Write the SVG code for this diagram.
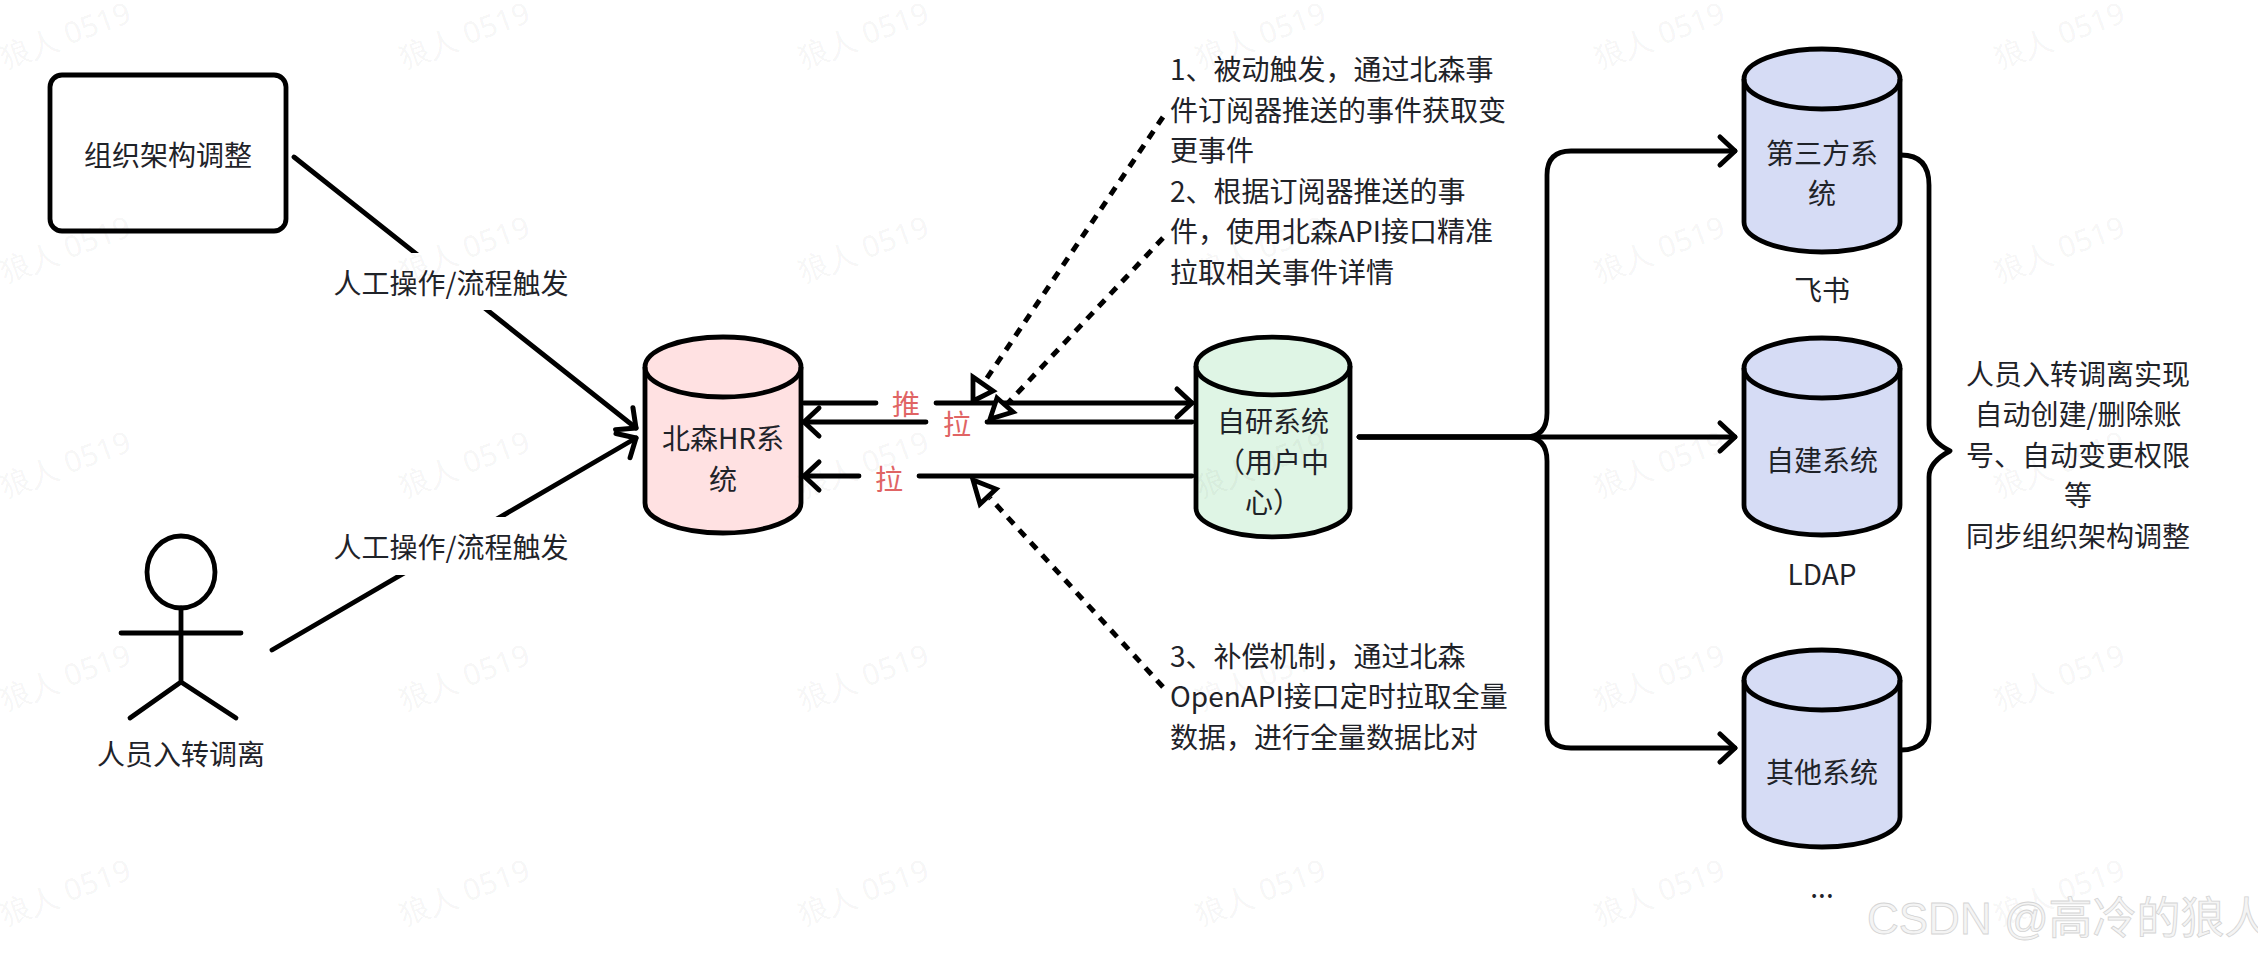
<svg xmlns="http://www.w3.org/2000/svg" width="2258" height="954" viewBox="0 0 2258 954">
<style>
text{font-family:"Noto Sans CJK SC","Noto Sans",sans-serif;font-size:28px;fill:#1f2329}
.c{text-anchor:middle;dominant-baseline:central}
.s{text-anchor:start;dominant-baseline:central}
.red{fill:#e06464}
.ln{fill:none;stroke:#000;stroke-width:4.8;stroke-linecap:round;stroke-linejoin:round}
.dash{fill:none;stroke:#000;stroke-width:5;stroke-dasharray:9 8}
.tri{fill:#fff;stroke:#000;stroke-width:4.8;stroke-linejoin:miter}
.cyl{stroke:#000;stroke-width:4.8;stroke-linejoin:round}
.top{fill:none;stroke:#000;stroke-width:4.8}
.wm text{font-family:"Noto Sans",sans-serif;font-size:30px;fill:#000;fill-opacity:.055;text-anchor:middle;dominant-baseline:central}
</style>
<defs>
<marker id="open" markerUnits="userSpaceOnUse" markerWidth="24" markerHeight="36" refX="20" refY="18" orient="auto" viewBox="0 0 24 36"><path d="M5 4L20 18L5 32" fill="none" stroke="#000" stroke-width="5" stroke-linecap="round" stroke-linejoin="round"/></marker>
</defs>
<rect width="2258" height="954" fill="#fff"/>
<g id="connectors">
<path class="ln" d="M294 157L636 428" marker-end="url(#open)"/>
<path class="ln" d="M272 650L636 438" marker-end="url(#open)"/>
<path class="ln" d="M804 403H876M936 403H1192" marker-end="url(#open)"/>
<path class="ln" d="M1192 422H987M926 422H804" marker-end="url(#open)"/>
<path class="ln" d="M1192 476H919M859 476H804" marker-end="url(#open)"/>
<path class="ln" d="M1359 437H1735" marker-end="url(#open)"/>
<path class="ln" d="M1359 437H1525Q1547 437 1547 413V175Q1547 151 1571 151H1735" marker-end="url(#open)"/>
<path class="ln" d="M1359 437H1525Q1547 437 1547 461V724Q1547 748 1571 748H1735" marker-end="url(#open)"/>
<path class="ln" d="M1901 155Q1929 155 1929 185V425Q1929 440 1950 451Q1929 462 1929 477V722Q1929 750 1901 750"/>
<path class="dash" d="M1163 117L985 381"/>
<polygon class="tri" points="973,377 993,391 973,401"/>
<path class="dash" d="M1163 238L1008 403"/>
<polygon class="tri" points="997,398 1013,412 990,419"/>
<path class="dash" d="M1163 687L990 498"/>
<polygon class="tri" points="973,480 996,489 980,504"/>
</g>
<g id="label-org"><rect x="335" y="253" width="232" height="57" fill="#fff"/><text class="c" x="451" y="282">人工操作/流程触发</text></g>
<g id="label-person"><rect x="335" y="517" width="232" height="58" fill="#fff"/><text class="c" x="451" y="546">人工操作/流程触发</text></g>
<g id="label-push"><text class="c red" x="906" y="403">推</text></g>
<g id="label-pull-1"><text class="c red" x="957" y="423">拉</text></g>
<g id="label-pull-2"><text class="c red" x="889" y="478">拉</text></g>
<g id="node-org"><rect x="50" y="75" width="236" height="156" rx="12" fill="#fff" stroke="#000" stroke-width="4.8"/><text class="c" x="168" y="154">组织架构调整</text></g>
<g id="node-person" class="ln">
<ellipse cx="181" cy="572" rx="34" ry="36" fill="#fff"/>
<path d="M181 608V682M121 633H241M130 718L181 682L236 718"/>
<text class="c" x="181" y="753" style="stroke:none">人员入转调离</text>
</g>
<g id="node-hr">
<path class="cyl" fill="#ffe1e2" d="M645 367A78 30 0 0 1 801 367V503A78 30 0 0 1 645 503Z"/>
<path class="top" d="M645 367A78 30 0 0 0 801 367"/>
<text class="c" x="723" y="437">北森HR系</text><text class="c" x="723" y="478">统</text>
</g>
<g id="node-self">
<path class="cyl" fill="#dff5e5" d="M1196 366A77 29 0 0 1 1350 366V508A77 29 0 0 1 1196 508Z"/>
<path class="top" d="M1196 366A77 29 0 0 0 1350 366"/>
<text class="c" x="1273" y="420">自研系统</text><text class="c" x="1273" y="461">（用户中</text><text class="c" x="1273" y="501">心）</text>
</g>
<g id="node-third">
<path class="cyl" fill="#d6dcf5" d="M1744 79A78 30 0 0 1 1900 79V222A78 30 0 0 1 1744 222Z"/>
<path class="top" d="M1744 79A78 30 0 0 0 1900 79"/>
<text class="c" x="1822" y="152">第三方系</text><text class="c" x="1822" y="192">统</text>
</g>
<text class="c" id="label-feishu" x="1822" y="289">飞书</text>
<g id="node-ldap">
<path class="cyl" fill="#d6dcf5" d="M1744 368A78 30 0 0 1 1900 368V505A78 30 0 0 1 1744 505Z"/>
<path class="top" d="M1744 368A78 30 0 0 0 1900 368"/>
<text class="c" x="1822" y="459">自建系统</text>
</g>
<text class="c" id="label-ldap" x="1822" y="573">LDAP</text>
<g id="node-other">
<path class="cyl" fill="#d6dcf5" d="M1744 680A78 30 0 0 1 1900 680V817A78 30 0 0 1 1744 817Z"/>
<path class="top" d="M1744 680A78 30 0 0 0 1900 680"/>
<text class="c" x="1822" y="771">其他系统</text>
</g>
<text class="c" id="label-more" x="1822" y="886">...</text>
<g id="note-events">
<text class="s" x="1170" y="68">1、被动触发，通过北森事</text>
<text class="s" x="1170" y="108.5">件订阅器推送的事件获取变</text>
<text class="s" x="1170" y="149">更事件</text>
<text class="s" x="1170" y="189.5">2、根据订阅器推送的事</text>
<text class="s" x="1170" y="230">件，使用北森API接口精准</text>
<text class="s" x="1170" y="270.5">拉取相关事件详情</text>
</g>
<g id="note-compensate">
<text class="s" x="1170" y="654.5">3、补偿机制，通过北森</text>
<text class="s" x="1170" y="695">OpenAPI接口定时拉取全量</text>
<text class="s" x="1170" y="735.5">数据，进行全量数据比对</text>
</g>
<g id="note-sync">
<text class="c" x="2078" y="372.5">人员入转调离实现</text>
<text class="c" x="2078" y="413">自动创建/删除账</text>
<text class="c" x="2078" y="453.5">号、自动变更权限</text>
<text class="c" x="2078" y="494">等</text>
<text class="c" x="2078" y="534.5">同步组织架构调整</text>
</g>
<g id="watermarks" class="wm">
<text x="65" y="34" transform="rotate(-20 65 34)">狼人 0519</text><text x="464" y="34" transform="rotate(-20 464 34)">狼人 0519</text><text x="863" y="34" transform="rotate(-20 863 34)">狼人 0519</text><text x="1260" y="34" transform="rotate(-20 1260 34)">狼人 0519</text><text x="1659" y="34" transform="rotate(-20 1659 34)">狼人 0519</text><text x="2059" y="34" transform="rotate(-20 2059 34)">狼人 0519</text>
<text x="65" y="248" transform="rotate(-20 65 248)">狼人 0519</text><text x="464" y="248" transform="rotate(-20 464 248)">狼人 0519</text><text x="863" y="248" transform="rotate(-20 863 248)">狼人 0519</text><text x="1260" y="248" transform="rotate(-20 1260 248)">狼人 0519</text><text x="1659" y="248" transform="rotate(-20 1659 248)">狼人 0519</text><text x="2059" y="248" transform="rotate(-20 2059 248)">狼人 0519</text>
<text x="65" y="463" transform="rotate(-20 65 463)">狼人 0519</text><text x="464" y="463" transform="rotate(-20 464 463)">狼人 0519</text><text x="863" y="463" transform="rotate(-20 863 463)">狼人 0519</text><text x="1260" y="463" transform="rotate(-20 1260 463)">狼人 0519</text><text x="1659" y="463" transform="rotate(-20 1659 463)">狼人 0519</text><text x="2059" y="463" transform="rotate(-20 2059 463)">狼人 0519</text>
<text x="65" y="676" transform="rotate(-20 65 676)">狼人 0519</text><text x="464" y="676" transform="rotate(-20 464 676)">狼人 0519</text><text x="863" y="676" transform="rotate(-20 863 676)">狼人 0519</text><text x="1260" y="676" transform="rotate(-20 1260 676)">狼人 0519</text><text x="1659" y="676" transform="rotate(-20 1659 676)">狼人 0519</text><text x="2059" y="676" transform="rotate(-20 2059 676)">狼人 0519</text>
<text x="65" y="891" transform="rotate(-20 65 891)">狼人 0519</text><text x="464" y="891" transform="rotate(-20 464 891)">狼人 0519</text><text x="863" y="891" transform="rotate(-20 863 891)">狼人 0519</text><text x="1260" y="891" transform="rotate(-20 1260 891)">狼人 0519</text><text x="1659" y="891" transform="rotate(-20 1659 891)">狼人 0519</text><text x="2059" y="891" transform="rotate(-20 2059 891)">狼人 0519</text>
</g>
<text id="csdn-mark" x="1867" y="934" style="font-family:'Liberation Sans','Noto Sans CJK SC',sans-serif;font-size:44px;fill:#f4f4f4;stroke:#d4d4d4;stroke-width:.8">CSDN @高冷的狼人</text>
</svg>
